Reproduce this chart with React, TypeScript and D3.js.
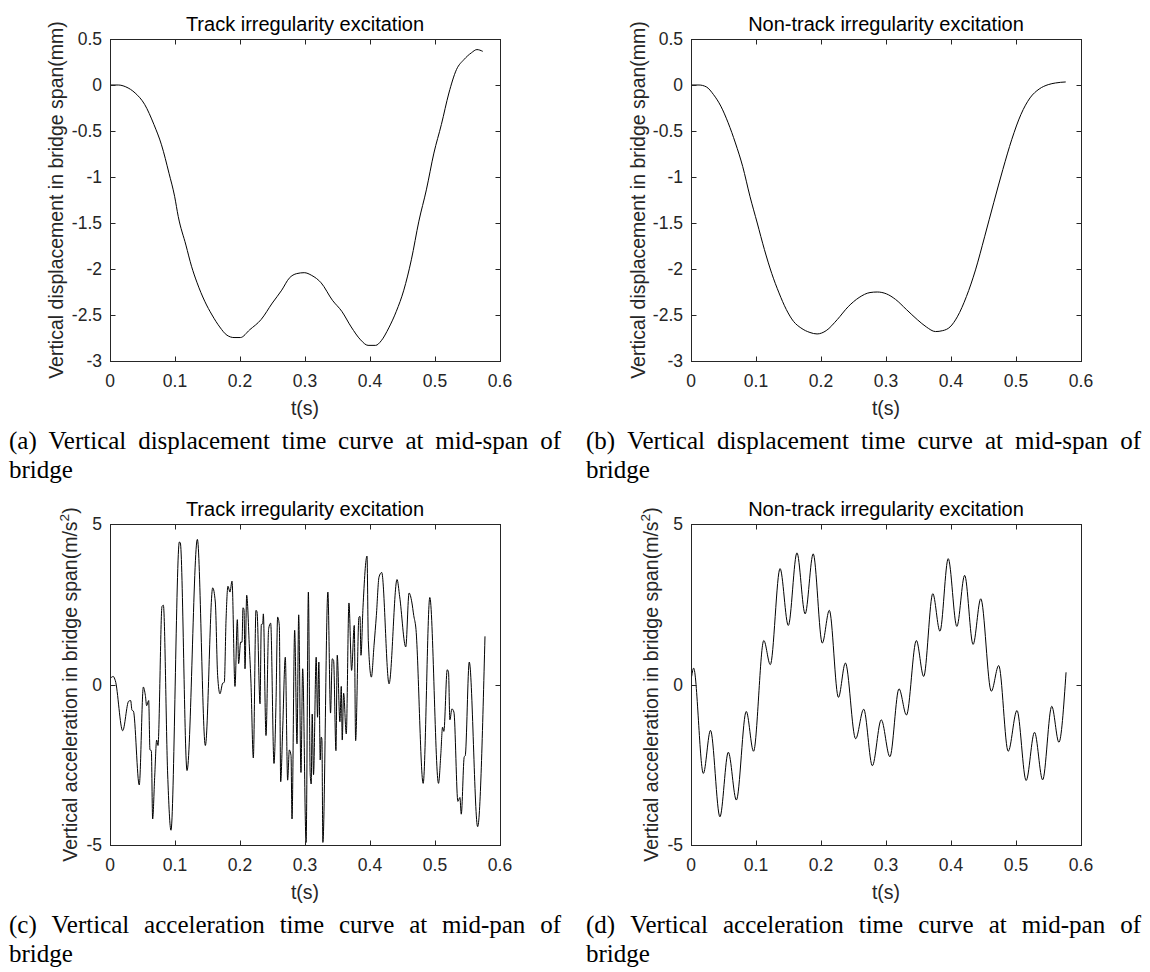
import React, { useMemo } from 'react';
import * as d3 from 'd3';

// ---------- data ----------
const timeTicks = [0, 0.1, 0.2, 0.3, 0.4, 0.5, 0.6];
const timeTickLabels = ['0', '0.1', '0.2', '0.3', '0.4', '0.5', '0.6'];
const dispTicks = [0.5, 0, -0.5, -1, -1.5, -2, -2.5, -3];
const dispTickLabels = ['0.5', '0', '-0.5', '-1', '-1.5', '-2', '-2.5', '-3'];
const accTicks = [5, 0, -5];
const accTickLabels = ['5', '0', '-5'];

const titleTrack = 'Track irregularity excitation';
const titleNonTrack = 'Non-track irregularity excitation';
const xLabel = 't(s)';
const dispLabel = 'Vertical displacement in bridge span(mm)';
const accLabelMain = 'Vertical acceleration in bridge span(m/s';

const captionA = ['(a) Vertical displacement time curve at mid-span of', 'bridge'];
const captionB = ['(b) Vertical displacement time curve at mid-span of', 'bridge'];
const captionC = ['(c) Vertical acceleration time curve at mid-pan of', 'bridge'];
const captionD = ['(d) Vertical acceleration time curve at mid-pan of', 'bridge'];

// [t (s), displacement (mm)]
const dispTrack: [number, number][] = [
  [0, 0], [0.0127, 0], [0.0243, -0.02], [0.0387, -0.087], [0.0532, -0.21], [0.0676, -0.43],
  [0.0792, -0.65], [0.0908, -0.96], [0.0994, -1.21], [0.105, -1.43], [0.1168, -1.74],
  [0.1254, -1.97], [0.134, -2.15], [0.1457, -2.35], [0.157, -2.5], [0.1688, -2.63],
  [0.18, -2.72], [0.1908, -2.745], [0.2006, -2.745], [0.215, -2.66], [0.2324, -2.55],
  [0.2497, -2.37], [0.2642, -2.23], [0.2757, -2.1], [0.2873, -2.05], [0.2988, -2.04],
  [0.3104, -2.07], [0.3248, -2.15], [0.3422, -2.34], [0.3566, -2.46], [0.3711, -2.63],
  [0.3855, -2.77], [0.397, -2.83], [0.4087, -2.83], [0.4173, -2.78], [0.4289, -2.64],
  [0.4405, -2.46], [0.452, -2.23], [0.4636, -1.9], [0.4752, -1.48], [0.4867, -1.14],
  [0.4983, -0.74], [0.5098, -0.43], [0.5214, -0.087], [0.533, 0.167], [0.5445, 0.276],
  [0.556, 0.35], [0.5645, 0.385], [0.5734, 0.366],
];

const dispNonTrack: [number, number][] = [
  [0, 0], [0.0123, 0], [0.0235, -0.02], [0.0347, -0.105], [0.0459, -0.23], [0.0571, -0.41],
  [0.0683, -0.63], [0.0795, -0.885], [0.0907, -1.21], [0.1019, -1.5], [0.113, -1.79],
  [0.1243, -2.05], [0.1354, -2.26], [0.1466, -2.44], [0.1578, -2.57], [0.169, -2.64],
  [0.183, -2.69], [0.194, -2.706], [0.208, -2.67], [0.225, -2.55], [0.2418, -2.41],
  [0.2586, -2.31], [0.2754, -2.256], [0.2866, -2.25], [0.3006, -2.27], [0.3146, -2.33],
  [0.3313, -2.44], [0.3481, -2.55], [0.3621, -2.63], [0.3761, -2.68], [0.3873, -2.67],
  [0.3985, -2.63], [0.4097, -2.52], [0.4237, -2.3], [0.4377, -2.01], [0.4517, -1.65],
  [0.4657, -1.28], [0.4797, -0.92], [0.4936, -0.59], [0.5076, -0.32], [0.5216, -0.14],
  [0.5356, -0.044], [0.5496, 0.004], [0.5608, 0.022], [0.5765, 0.033],
];

// [t (s), acceleration (m/s^2)]
const accTrack: [number, number][] = [
  [0.001, 0.2], [0.005, 0.25], [0.0082, 0.12], [0.0195, -1.44], [0.0287, -0.52], [0.0318, -0.5],
  [0.0338, -0.8], [0.036, -0.83], [0.045, -3.13], [0.0513, -0.08], [0.0544, -0.34], [0.0564, -0.66],
  [0.0595, -0.5], [0.0615, -2.04], [0.0636, -2.06], [0.0656, -4.19], [0.0687, -2.9], [0.0718, -1.73],
  [0.0738, -1.9], [0.08, 2.43], [0.0821, 2.47], [0.0887, -2.79], [0.0938, -4.54], [0.1067, 4.44],
  [0.1082, 4.41], [0.1185, -2.68], [0.1344, 4.52], [0.1467, -1.9], [0.158, 3.01], [0.162, 2.57],
  [0.1656, 0.28], [0.1692, -0.29], [0.1733, 0.04], [0.1759, 0.07], [0.1785, 2.0], [0.1815, 3.06],
  [0.1846, 2.88], [0.1877, 3.22], [0.1923, -0.06], [0.1959, 2.02], [0.1979, 0.65], [0.201, 1.32],
  [0.2031, 1.32], [0.2046, 2.39], [0.2062, 2.33], [0.2077, 0.49], [0.2103, 2.78], [0.2144, 1.17],
  [0.2169, 0.04], [0.2205, -2.29], [0.2246, 2.31], [0.2262, 2.26], [0.2308, -0.6], [0.2328, 1.87],
  [0.2349, 1.89], [0.2359, 2.2], [0.24, -1.59], [0.2441, 1.74], [0.2472, 1.91], [0.2523, -2.46],
  [0.2554, -0.55], [0.2579, 2.1], [0.2605, 1.84], [0.2626, -3.03], [0.2656, -1.44], [0.2697, 0.85],
  [0.2733, -2.98], [0.2759, -2.04], [0.2785, -2.21], [0.28, -4.19], [0.2841, 1.69], [0.2877, -1.85],
  [0.2903, 2.17], [0.2938, -2.74], [0.2964, 0.49], [0.3017, -4.92], [0.3052, 2.88], [0.308, -2.79],
  [0.3095, -3.1], [0.3111, -0.92], [0.3131, -2.81], [0.3172, 0.85], [0.3193, -1.02], [0.3213, 0.7],
  [0.3234, -2.35], [0.3249, -1.64], [0.326, -1.7], [0.3275, -4.92], [0.3352, 2.88], [0.3393, -0.89],
  [0.3419, 0.8], [0.344, 0.75], [0.3476, -2.06], [0.3496, 0.91], [0.3537, -1.16], [0.3558, -0.06],
  [0.3573, -1.73], [0.3594, -0.27], [0.3635, -1.54], [0.3676, 2.54], [0.3717, 0.44], [0.3758, 1.84],
  [0.3779, -1.75], [0.383, 2.1], [0.3846, 2.12], [0.3861, 0.91], [0.3892, 2.39], [0.3954, 4.0],
  [0.3974, 1.37], [0.4021, 0.23], [0.4062, 1.22], [0.4098, 2.15], [0.4139, 3.35], [0.418, 3.49],
  [0.4293, 0.02], [0.4416, 3.27], [0.4457, 2.73], [0.455, 1.17], [0.4601, 2.85], [0.4643, 2.57],
  [0.4673, 2.15], [0.4704, 1.79], [0.4818, -3.08], [0.492, 2.71], [0.5054, -3.08], [0.509, -2.16],
  [0.5116, -1.33], [0.5136, -1.46], [0.5188, 0.46], [0.5208, 0.38], [0.5229, -1.1], [0.526, -0.76],
  [0.5291, -0.86], [0.5352, -3.64], [0.5383, -3.52], [0.5404, -4.04], [0.545, -2.25], [0.5465, -2.22],
  [0.5527, 0.7], [0.5656, -4.43], [0.5769, 1.5],
];

const accNonTrack: [number, number][] = [
  [0.001, 0.25], [0.004, 0.51], [0.019, -2.77], [0.03, -1.43], [0.0445, -4.12], [0.0574, -2.11],
  [0.0698, -3.6], [0.085, -0.84], [0.0962, -2.08], [0.112, 1.37], [0.122, 0.62], [0.137, 3.61],
  [0.1497, 1.84], [0.163, 4.1], [0.1756, 2.2], [0.188, 4.07], [0.202, 1.29], [0.2128, 2.31],
  [0.2268, -0.4], [0.2375, 0.67], [0.2533, -1.69], [0.2657, -0.77], [0.279, -2.53], [0.2927, -1.1],
  [0.306, -2.25], [0.32, -0.135], [0.3315, -0.95], [0.3467, 1.37], [0.358, 0.25], [0.372, 2.83],
  [0.383, 1.66], [0.3957, 3.92], [0.409, 1.81], [0.421, 3.4], [0.434, 1.25], [0.4458, 2.67],
  [0.462, -0.21], [0.4734, 0.59], [0.488, -2.08], [0.5015, -0.81], [0.5156, -2.99], [0.5285, -1.49],
  [0.541, -2.97], [0.555, -0.68], [0.566, -1.8], [0.577, 0.38],
];

// ---------- drawing ----------
const SANS = '"Liberation Sans", Arial, Helvetica, sans-serif';
const SERIF = '"Liberation Serif", "Times New Roman", serif';
const AXIS = '#262626';
const TICK_FS = 17.5;
const TITLE_FS = 20;
const LABEL_FS = 19.5;
const CAP_FS = 25;

type PanelProps = {
  left: number; right: number; top: number; bottom: number;
  domain: [number, number]; ticks: number[]; tickLabels: string[];
  data: [number, number][]; title: string; labelGap: number; sup: boolean;
};

function Panel(p: PanelProps) {
  const x = d3.scaleLinear().domain([0, 0.6]).range([p.left, p.right]);
  const y = d3.scaleLinear().domain(p.domain).range([p.bottom, p.top]);
  const line = d3.line<[number, number]>().x(d => x(d[0])).y(d => y(d[1])).curve(d3.curveMonotoneX);
  const tl = 5;
  const cx = (p.left + p.right) / 2;
  const cy = (p.top + p.bottom) / 2;
  const L = Math.round(p.left) + 0.5, R = Math.round(p.right) + 0.5;
  const T = Math.round(p.top) + 0.5, B = Math.round(p.bottom) + 0.5;
  const lx = p.left - p.labelGap;
  return (
    <g>
      <path d={line(p.data) || ''} fill="none" stroke="#000" strokeWidth={1} strokeLinejoin="round" />
      <rect x={L} y={T} width={R - L} height={B - T} fill="none" stroke={AXIS} strokeWidth={1} />
      {timeTicks.map((t, i) => {
        const xx = Math.round(x(t)) + 0.5;
        return (
          <g key={'x' + i}>
            <line x1={xx} x2={xx} y1={B} y2={B - tl} stroke={AXIS} />
            <line x1={xx} x2={xx} y1={T} y2={T + tl} stroke={AXIS} />
            <text x={x(t)} y={p.bottom + 25.5} textAnchor="middle" fontFamily={SANS} fontSize={TICK_FS} fill={AXIS}>
              {timeTickLabels[i]}
            </text>
          </g>
        );
      })}
      {p.ticks.map((v, i) => {
        const yy = Math.round(y(v)) + 0.5;
        return (
          <g key={'y' + i}>
            <line x1={L} x2={L + tl} y1={yy} y2={yy} stroke={AXIS} />
            <line x1={R} x2={R - tl} y1={yy} y2={yy} stroke={AXIS} />
            <text x={p.left - 8} y={y(v) + TICK_FS * 0.35} textAnchor="end" fontFamily={SANS} fontSize={TICK_FS} fill={AXIS}>
              {p.tickLabels[i]}
            </text>
          </g>
        );
      })}
      <text x={cx} y={p.top - 8.5} textAnchor="middle" fontFamily={SANS} fontSize={TITLE_FS} fill="#000">
        {p.title}
      </text>
      <text x={cx} y={p.bottom + 54} textAnchor="middle" fontFamily={SANS} fontSize={LABEL_FS} fill={AXIS}>
        {xLabel}
      </text>
      <text transform={`translate(${lx},${cy}) rotate(-90)`} textAnchor="middle" fontFamily={SANS} fontSize={LABEL_FS} fill={AXIS}>
        {p.sup ? (
          <>
            {accLabelMain}
            <tspan fontSize={LABEL_FS * 0.7} dy={-LABEL_FS * 0.42}>2</tspan>
            <tspan dy={LABEL_FS * 0.42}>)</tspan>
          </>
        ) : dispLabel}
      </text>
    </g>
  );
}

function Caption({ lines, x0, x1, y }: { lines: string[]; x0: number; x1: number; y: number }) {
  const layout = useMemo(() => {
    const ctx = document.createElement('canvas').getContext('2d');
    if (ctx) ctx.font = `${CAP_FS}px "Liberation Serif"`;
    const words = lines[0].split(' ');
    const widths = words.map(w => (ctx ? ctx.measureText(w).width : w.length * CAP_FS * 0.45));
    const total = widths.reduce((a, b) => a + b, 0);
    const gap = (x1 - x0 - total) / (words.length - 1);
    let cur = x0;
    return words.map((w, i) => {
      const pos = cur;
      cur += widths[i] + gap;
      return { w, pos };
    });
  }, [lines, x0, x1]);
  return (
    <g fontFamily={SERIF} fontSize={CAP_FS} fill="#000">
      {layout.map((o, i) => (
        <text key={i} x={o.pos} y={y}>{o.w}</text>
      ))}
      <text x={x0} y={y + 29}>{lines[1]}</text>
    </g>
  );
}

export default function App() {
  const colL = { left: 110, right: 500 };
  const colR = { left: 691, right: 1081 };
  const rowT = { top: 39, bottom: 361 };
  const rowB = { top: 524, bottom: 845 };
  return (
    <svg width={1150} height={972} viewBox="0 0 1150 972"
      style={{ position: 'absolute', left: 0, top: 0, background: '#fff', display: 'block' }}>
      <rect x={0} y={0} width={1150} height={972} fill="#fff" />
      <Panel {...colL} {...rowT} domain={[-3, 0.5]} ticks={dispTicks} tickLabels={dispTickLabels}
        data={dispTrack} title={titleTrack} labelGap={47} sup={false} />
      <Panel {...colR} {...rowT} domain={[-3, 0.5]} ticks={dispTicks} tickLabels={dispTickLabels}
        data={dispNonTrack} title={titleNonTrack} labelGap={46} sup={false} />
      <Panel {...colL} {...rowB} domain={[-5, 5]} ticks={accTicks} tickLabels={accTickLabels}
        data={accTrack} title={titleTrack} labelGap={33} sup={true} />
      <Panel {...colR} {...rowB} domain={[-5, 5]} ticks={accTicks} tickLabels={accTickLabels}
        data={accNonTrack} title={titleNonTrack} labelGap={33} sup={true} />
      <Caption lines={captionA} x0={9} x1={561} y={449} />
      <Caption lines={captionB} x0={586} x1={1141} y={449} />
      <Caption lines={captionC} x0={9} x1={561} y={933} />
      <Caption lines={captionD} x0={586} x1={1141} y={933} />
    </svg>
  );
}
